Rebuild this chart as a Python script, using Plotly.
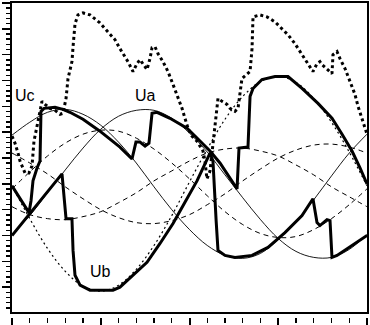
import plotly.graph_objects as go

# electrical angle grid (deg) used for the sinusoidal references
angle_deg = [0, 18, 36, 54, 72, 90, 108, 126, 144, 162, 180, 198, 216, 234, 252, 270, 288, 306, 324, 342, 360]

# thin reference waves
s1_thin = [49, 62, 72, 75, 70, 59, 42, 21, -3, -26, -46, -62, -72, -75, -70, -56, -38, -16, 8, 31, 50]
ua_thin = [-51, -32, -9, 14, 36, 55, 68, 74, 74, 66, 51, 32, 9, -14, -36, -55, -68, -74, -74, -66, -51]
ub_thin = [-2, -35, -65, -88, -103, -108, -102, -86, -62, -32, 2, 35, 65, 88, 103, 108, 102, 86, 62, 32, -2]
d1_dash = [-23, -31, -35, -36, -33, -28, -19, -9, 3, 13, 23, 31, 35, 36, 33, 28, 19, 9, -3, -13, -23]
d2_dash = [31, 21, 10, -3, -15, -26, -34, -39, -40, -37, -31, -21, -10, 3, 15, 26, 34, 39, 40, 37, 31]
d3_dash = [-5, 12, 28, 41, 50, 54, 53, 46, 35, 21, 5, -12, -28, -41, -50, -54, -53, -46, -35, -21, -5]

# thick output wave 1 (Uc -> Ua)
t1_deg = [0, 17.2, 19.3, 21.3, 25.4, 28.4, 29.4, 32.5, 43.6, 51.7, 58.8, 72.0, 89.2, 109.5, 121.7,
          125.7, 129.8, 134.9, 138.9, 142.0, 147.0, 160.2, 177.5, 190.7, 200.8, 210.9, 228.2,
          230.2, 239.3, 241.4, 244.4, 253.5, 266.7, 279.9, 294.1, 310.3, 324.5, 334.7, 344.8, 352.9, 360]
t1_val = [-2, -29, -17, 3, 16, 23, 73, 76, 77, 75, 72, 65, 53, 37, 25,
          42, 42, 38, 41, 71, 72, 66, 56, 43, 33, 21, -5,
          36, 37, 88, 96, 105, 108, 108, 96, 81, 66, 50, 33, 16, 0]

# thick output wave 2 (Ub)
t2_deg = [0, 16.2, 33.5, 50.7, 52.7, 54.8, 60.8, 61.9, 63.9, 69.0, 79.1, 102.4, 109.5, 122.7, 136.9,
          150.1, 163.3, 173.4, 187.6, 200.8, 203.8, 207.0, 208.9, 216.0, 226.1, 243.4, 259.6, 276.8,
          294.1, 305.2, 309.3, 312.3, 319.4, 322.5, 324.5, 329.6, 344.8, 360]
t2_val = [-52, -32, -11, 10, -12, -35, -35, -67, -92, -102, -107, -107, -104, -92, -79,
          -60, -40, -22, 3, 31, 23, -37, -67, -72, -74, -72, -64, -49,
          -32, -15, -39, -42, -36, -37, -74, -72, -62, -52]

# thick dotted wave
dot_deg = [0, 3.0, 6.1, 8.1, 13.2, 17.2, 20.3, 21.3, 22.3, 26.4, 30.4, 33.5, 38.5, 43.6, 48.7, 51.7,
           54.8, 56.8, 60.8, 61.9, 63.9, 66.9, 72.0, 79.1, 89.2, 96.3, 104.5, 109.5, 114.6, 117.6,
           122.7, 126.8, 129.8, 132.8, 136.9, 139.9, 142.0, 145.0, 148.1, 153.1, 158.2, 163.3, 167.3,
           172.4, 175.4, 178.5, 182.5, 187.6, 190.7, 193.7, 195.7, 197.7, 200.8, 203.8, 205.9, 208.9,
           213.0, 218.0, 221.1, 226.1, 229.2, 231.2, 233.2, 241.4, 243.4, 244.4, 251.5, 258.6, 266.7,
           273.8, 279.9, 287.0, 292.1, 297.1, 302.2, 305.2, 309.3, 312.3, 314.4, 320.5, 324.5, 325.5,
           329.6, 332.6, 337.7, 342.8, 347.8, 350.9, 355.0, 360]
dot_val = [48, 41, 31, 23, 11, 11, 18, 33, 43, 63, 83, 80, 76, 74, 70, 71,
           86, 106, 123, 138, 161, 170, 172, 170, 162, 154, 145, 136, 128, 123,
           113, 121, 125, 121, 115, 126, 137, 138, 131, 123, 113, 100, 90,
           76, 66, 56, 48, 43, 38, 33, 23, 5, 13, 38, 60, 86,
           83, 80, 76, 73, 76, 93, 106, 113, 136, 168, 170, 168, 163,
           156, 150, 141, 133, 125, 118, 113, 121, 123, 120, 115, 111, 130,
           133, 126, 116, 103, 90, 78, 66, 50]

labels = ["Uc", "Ua", "Ub"]
label_deg = [13, 135, 90]
label_val = [89, 89, -88]

fig = go.Figure()

def thin(x, y, dash, width=1.0, shape="spline"):
    fig.add_trace(go.Scatter(x=x, y=y, mode="lines", hoverinfo="skip", showlegend=False,
                             line=dict(color="black", width=width, dash=dash, shape=shape)))

thin(angle_deg, d1_dash, "5px,4px")
thin(angle_deg, d2_dash, "5px,4px")
thin(angle_deg, d3_dash, "5px,4px")
thin(angle_deg, s1_thin, "solid", 0.9)
thin(angle_deg, ua_thin, "solid", 0.9)
thin(angle_deg, ub_thin, "2px,3px", 1.2)
thin(dot_deg, dot_val, "3px,3px", 3, "linear")
thin(t1_deg, t1_val, "solid", 3, "linear")
thin(t2_deg, t2_val, "solid", 3, "linear")

# helper trace for the detached tick row
fig.add_trace(go.Scatter(x=[0, 360], y=[0, 0], xaxis="x2", yaxis="y", mode="markers",
                         marker=dict(opacity=0), hoverinfo="skip", showlegend=False))

for t, xd, yv in zip(labels, label_deg, label_val):
    fig.add_annotation(x=xd, y=yv, text=t, showarrow=False, xref="x", yref="y",
                       font=dict(family="Liberation Sans, Arial, sans-serif", size=16, color="black"))

fig.update_layout(
    width=370, height=325,
    margin=dict(l=12, r=3, t=1, b=8),
    paper_bgcolor="white", plot_bgcolor="white",
    showlegend=False,
    xaxis=dict(range=[0, 360], showgrid=False, zeroline=False, showticklabels=False,
               showline=True, linewidth=2, linecolor="black", mirror=True, ticks=""),
    xaxis2=dict(range=[0, 360], overlaying="x", anchor="free", position=0, side="bottom",
                showgrid=False, zeroline=False, showticklabels=False, showline=False,
                ticks="outside", tick0=0, dtick=90, ticklen=7, tickwidth=2, tickcolor="black",
                minor=dict(ticks="outside", dtick=18, ticklen=5, tickwidth=1.3, tickcolor="black")),
    yaxis=dict(range=[-129, 182], domain=[5 / 316, 1], showgrid=False, zeroline=False,
               showticklabels=False, showline=True, linewidth=2, linecolor="black", mirror=True,
               ticks="outside", tick0=0, dtick=26, ticklen=8, tickwidth=1.5, tickcolor="black",
               minor=dict(ticks="outside", dtick=5.2, ticklen=4, tickwidth=1.5, tickcolor="black")),
)

fig.write_html("out.html", config={"displayModeBar": False, "staticPlot": True},
               post_script="document.body.style.margin='0';document.body.style.overflow='hidden';")
